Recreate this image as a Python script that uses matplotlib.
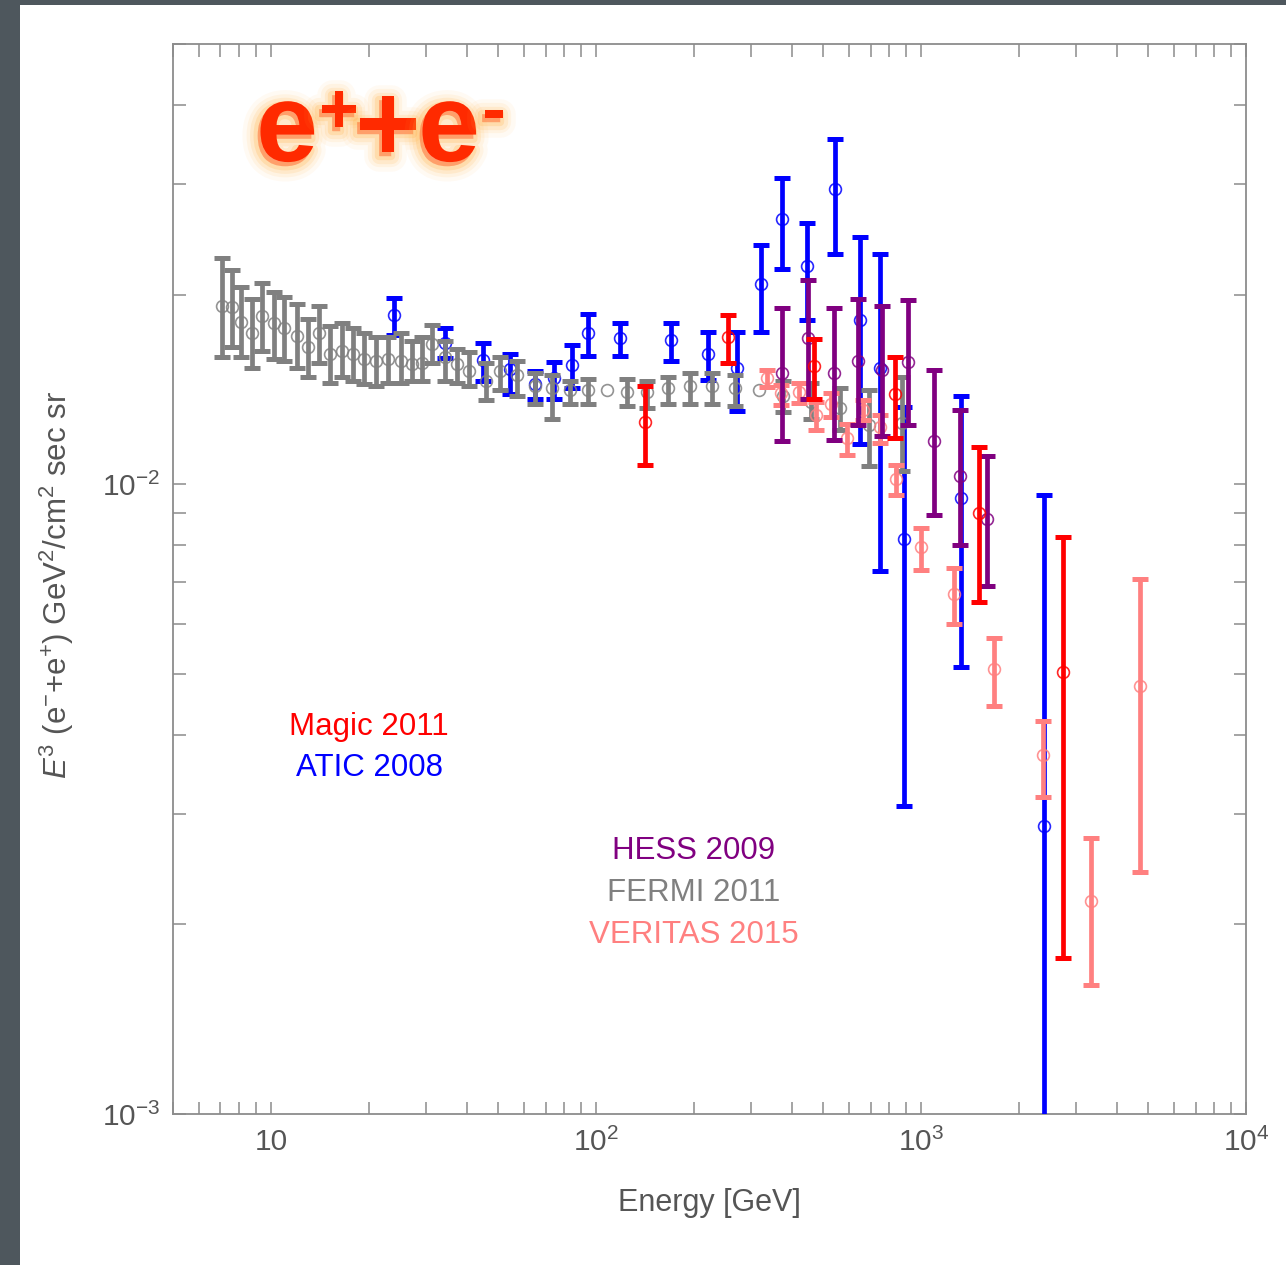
import numpy as np
import matplotlib
matplotlib.use("Agg")
import matplotlib.pyplot as plt
import matplotlib.patheffects as pe
from matplotlib.patches import Rectangle
from matplotlib.ticker import LogLocator, NullFormatter, FixedLocator, FixedFormatter

plt.rcParams['font.family'] = ['Liberation Sans', 'DejaVu Sans']
plt.rcParams['mathtext.fontset'] = 'custom'
plt.rcParams['mathtext.rm'] = 'Liberation Sans'
plt.rcParams['mathtext.it'] = 'Liberation Sans:italic'
plt.rcParams['mathtext.bf'] = 'Liberation Sans:bold'

nan = np.nan

# FERMI 2011
fermi_e = [7.05, 7.57, 8.12, 8.72, 9.40, 10.2, 11.0, 12.0, 13.0, 14.1, 15.2, 16.6, 17.9, 19.4,
           21.0, 22.9, 25.1, 27.1, 29.1, 31.4, 34.3, 37.3, 40.7, 45.9, 50.7, 57.1, 64.9, 73.2,
           83.2, 94.5, 108, 125, 144, 167, 195, 228, 268, 317, 376, 459, 563, 692, 874]
fermi_f = [0.0192, 0.0191, 0.0181, 0.0174, 0.0185, 0.0180, 0.0177, 0.0172, 0.0165, 0.0174, 0.0161,
           0.0163, 0.0161, 0.0158, 0.0157, 0.0158, 0.0157, 0.0155, 0.0156, 0.0167, 0.0159, 0.0155,
           0.0151, 0.0146, 0.0151, 0.0149, 0.0143, 0.0142, 0.0141, 0.0141, 0.0141, 0.0140, 0.0140,
           0.0142, 0.0143, 0.0143, 0.0142, 0.0141, 0.0138, 0.0135, 0.0132, 0.0124, 0.0125]
fermi_lo = [0.0159, 0.0165, 0.0159, 0.0153, 0.0163, 0.0158, 0.0157, 0.0153, 0.0148, 0.0156, 0.0145,
            0.0148, 0.0146, 0.0144, 0.0143, 0.0145, 0.0145, 0.0146, 0.0146, 0.0156, 0.0146, 0.0145,
            0.0143, 0.0136, 0.0141, 0.0138, 0.0134, 0.0127, 0.0134, 0.0134, nan, 0.0133, 0.0132,
            0.0134, 0.0134, 0.0134, 0.0133, nan, 0.0130, 0.0127, 0.0122, 0.0107, 0.0105]
fermi_hi = [0.0229, 0.0219, 0.0206, 0.0197, 0.0209, 0.0202, 0.0198, 0.0193, 0.0183, 0.0192, 0.0178,
            0.0180, 0.0177, 0.0174, 0.0171, 0.0171, 0.0174, 0.0169, 0.0171, 0.0179, 0.0169, 0.0164,
            0.0162, 0.0156, 0.0159, 0.0157, 0.0150, 0.0149, 0.0146, 0.0147, nan, 0.0147, 0.0146,
            0.0148, 0.0150, 0.0150, 0.0149, nan, 0.0146, 0.0145, 0.0142, 0.0141, 0.0148]

# ATIC 2008
atic_e = [23.9, 34.3, 44.8, 54.4, 64.9, 74.3, 84.4, 94.7, 119, 170, 222, 272, 323, 373, 447,
          544, 649, 748, 888, 1328, 2395]
atic_f = [0.01855, 0.01674, 0.01573, 0.01523, 0.01445, 0.01476, 0.01548, 0.01735, 0.01708, 0.01693,
          0.01608, 0.01532, 0.02077, 0.02634, 0.02218, 0.02939, 0.01821, 0.01532, 0.00818, 0.00951,
          0.00287]
atic_lo = [0.01727, 0.01585, 0.01457, 0.01393, 0.01368, 0.01368, 0.01421, 0.01597, 0.01597, 0.01569,
           0.01463, 0.01307, 0.01745, 0.02194, 0.01821, 0.02318, 0.01160, 0.00728, 0.00308, 0.00513,
           0.0009]
atic_hi = [0.01979, 0.01769, 0.01676, 0.01608, 0.01511, 0.01562, 0.01662, 0.01862, 0.01803, 0.01803,
           0.01745, 0.01745, 0.02395, 0.03068, 0.02599, 0.03538, 0.02469, 0.02324, 0.01324, 0.01379,
           0.00962]

# Magic 2011
magic_e = [141.5, 255, 469, 834, 1508, 2729]
magic_f = [0.01256, 0.01713, 0.01539, 0.01391, 0.00900, 0.00503]
magic_lo = [0.01072, 0.01555, 0.01368, 0.01182, 0.00650, 0.00177]
magic_hi = [0.01431, 0.01855, 0.01703, 0.01595, 0.01144, 0.00823]

# HESS 2009
hess_e = [373, 450, 540, 638, 759, 914, 1099, 1318, 1593]
hess_f = [0.01502, 0.01707, 0.01502, 0.01569, 0.01520, 0.01564, 0.01170, 0.01030, 0.00880]
hess_lo = [0.01170, 0.01368, 0.01174, 0.01241, 0.01194, 0.01240, 0.00895, 0.00800, 0.00690]
hess_hi = [0.01908, 0.02113, 0.01905, 0.01971, 0.01917, 0.01959, 0.01521, 0.01314, 0.01109]

# VERITAS 2015
veritas_e = [335, 371, 421, 474, 527, 594, 665, 749, 838, 998, 1260, 1677, 2368, 3335, 4718]
veritas_f = [0.01477, 0.01395, 0.01400, 0.01288, 0.01343, 0.01186, 0.01311, 0.01233, 0.01021,
             0.00795, 0.00669, 0.00509, 0.00372, 0.00218, 0.00478]
veritas_lo = [0.01427, 0.01335, 0.01345, 0.01221, 0.01277, 0.01111, 0.01264, 0.01162, 0.00963,
              0.00732, 0.00599, 0.00444, 0.00319, 0.00160, 0.00242]
veritas_hi = [0.01517, 0.01436, 0.01447, 0.01351, 0.01395, 0.01245, 0.01359, 0.01287, 0.01072,
              0.00851, 0.00735, 0.00569, 0.00420, 0.00274, 0.00708]

W, H = 1286, 1265
TXT = '#555555'
AXC = '#8c8c8c'


def fpos(x, y):
    return x / W, 1 - y / H


fig = plt.figure(figsize=(W / 100, H / 100), dpi=100)
fig.patch.set_facecolor('#4e575d')
fig.add_artist(Rectangle((20 / W, 0), 1 - 20 / W, 1 - 5 / H, transform=fig.transFigure,
                         facecolor='white', edgecolor='none', zorder=0))

ax = fig.add_axes([173 / W, 1 - 1114 / H, (1246 - 173) / W, (1114 - 44) / H])
ax.set_xscale('log')
ax.set_yscale('log')
ax.set_xlim(5, 1e4)
ax.set_ylim(1e-3, 0.05)


def draw(e, f, lo, hi, color, z):
    e, f, lo, hi = (np.asarray(a, dtype=float) for a in (e, f, lo, hi))
    ok = ~np.isnan(lo)
    ax.errorbar(e[ok], f[ok], yerr=[f[ok] - lo[ok], hi[ok] - f[ok]], fmt='none',
                ecolor=color, elinewidth=3.4, capsize=5.5, capthick=3.6, zorder=z)
    ax.plot(e, f, 'o', ms=8.5, mfc='none', mec=color, mew=1.2, alpha=0.85, zorder=z + 0.5)


draw(atic_e, atic_f, atic_lo, atic_hi, '#0000ff', 3)
draw(fermi_e, fermi_f, fermi_lo, fermi_hi, '#808080', 4)
draw(veritas_e, veritas_f, veritas_lo, veritas_hi, '#ff8080', 5)
draw(hess_e, hess_f, hess_lo, hess_hi, '#800080', 6)
draw(magic_e, magic_f, magic_lo, magic_hi, '#ff0000', 7)

ax.xaxis.set_major_locator(FixedLocator([10, 100, 1000, 10000]))
ax.xaxis.set_major_formatter(FixedFormatter(['10', '$10^2$', '$10^3$', '$10^4$']))
ax.xaxis.set_minor_locator(LogLocator(base=10, subs=range(2, 10)))
ax.xaxis.set_minor_formatter(NullFormatter())
ax.yaxis.set_major_locator(FixedLocator([1e-3, 1e-2]))
ax.yaxis.set_major_formatter(FixedFormatter(['$10^{-3}$', '$10^{-2}$']))
ax.yaxis.set_minor_locator(LogLocator(base=10, subs=range(2, 10)))
ax.yaxis.set_minor_formatter(NullFormatter())

ax.tick_params(which='both', direction='in', top=True, right=True, color=AXC, width=1.1)
ax.tick_params(which='major', length=9, labelsize=21.5, labelcolor=TXT)
ax.tick_params(which='minor', length=9)
ax.tick_params(axis='x', which='major', pad=10)
ax.tick_params(axis='y', which='major', pad=9)
for s in ax.spines.values():
    s.set_color(AXC)
    s.set_linewidth(1.3)

fig.text(*fpos(709, 1203), 'Energy [GeV]', ha='center', va='center', fontsize=22, color=TXT)
fig.text(*fpos(57, 585), r'$\mathit{E}^3$ (e$^{-}$+e$^{+}$) GeV$^2$/cm$^2$ sec sr',
         ha='center', va='center', rotation=90, fontsize=22.5, color=TXT)

# dataset labels
fig.text(*fpos(369, 727), 'Magic 2011', ha='center', va='center', fontsize=22.5, color='#ff0000')
fig.text(*fpos(369, 768), 'ATIC 2008', ha='center', va='center', fontsize=22.5, color='#0000ff')
fig.text(*fpos(694, 851), 'HESS 2009', ha='center', va='center', fontsize=22.5, color='#800080')
fig.text(*fpos(694, 893), 'FERMI 2011', ha='center', va='center', fontsize=22.5, color='#808080')
fig.text(*fpos(694, 935), 'VERITAS 2015', ha='center', va='center', fontsize=22.5, color='#ff8080')

# glowing e+ + e- badge
glow = [pe.Stroke(linewidth=lw, foreground='#ffb040', alpha=a, offset=(-2, -3))
        for lw, a in [(22, 0.06), (16, 0.09), (11, 0.14), (6, 0.22)]] + [pe.Normal()]
badge = dict(color='#ff2a00', fontweight='bold', ha='center', va='baseline',
             family='Liberation Sans', path_effects=glow)
fig.text(*fpos(287, 161), 'e', fontsize=80, **badge)
fig.text(*fpos(339, 132), '+', fontsize=50, **badge)
fig.text(*fpos(388, 161), '+', fontsize=80, **badge)
fig.text(*fpos(449, 161), 'e', fontsize=80, **badge)
fig.text(*fpos(494, 132), '-', fontsize=50, **badge)

fig.savefig('out.png', dpi=100, facecolor=fig.get_facecolor())
